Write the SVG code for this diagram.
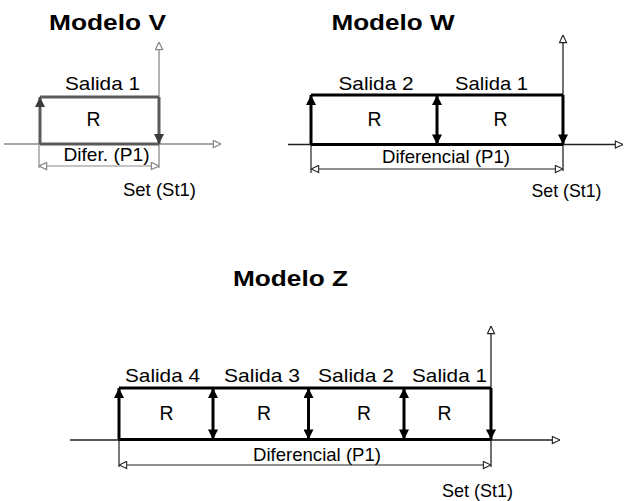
<svg xmlns="http://www.w3.org/2000/svg" width="624" height="501" viewBox="0 0 624 501">
  <style>
    .title { font-family: "Liberation Sans", Arial, sans-serif; font-weight: bold; font-size: 22px; fill: #000; }
    .lbl { font-family: "Liberation Sans", Arial, sans-serif; font-size: 19px; fill: #000; }
    .r { font-size: 20px; }
    .axis { stroke: #222; stroke-width: 1.3; fill: none; }
    .dim { stroke: #222; stroke-width: 1.2; fill: none; }
    .band { stroke: #000; stroke-width: 3; fill: none; }
    .v .axis, .v .dim { stroke: #8a8a8a; }
    .v .band { stroke: #5a5a5a; }
  </style>
  <defs>
    <!-- solid head for the switching arrows -->
    <marker id="head" viewBox="0 0 10 10" refX="10" refY="5" markerWidth="11" markerHeight="10" markerUnits="userSpaceOnUse" orient="auto-start-reverse">
      <path d="M0,0 L10,5 L0,10 Z" fill="#000"/>
    </marker>
    <marker id="headGray" viewBox="0 0 10 10" refX="10" refY="5" markerWidth="11" markerHeight="10" markerUnits="userSpaceOnUse" orient="auto-start-reverse">
      <path d="M0,0 L10,5 L0,10 Z" fill="#3a3a3a"/>
    </marker>
    <!-- open head for axes and dimension lines -->
    <marker id="open" viewBox="0 0 10 10" refX="9.5" refY="5" markerWidth="9" markerHeight="9" markerUnits="userSpaceOnUse" orient="auto-start-reverse">
      <path d="M1,1 L9.5,5 L1,9 Z" fill="#fff" stroke="#222" stroke-width="1.2"/>
    </marker>
    <marker id="openGray" viewBox="0 0 10 10" refX="9.5" refY="5" markerWidth="9" markerHeight="9" markerUnits="userSpaceOnUse" orient="auto-start-reverse">
      <path d="M1,1 L9.5,5 L1,9 Z" fill="#fff" stroke="#8a8a8a" stroke-width="1.4"/>
    </marker>
    <filter id="soft" x="-5%" y="-5%" width="110%" height="110%">
      <feGaussianBlur stdDeviation="0.5"/>
    </filter>
  </defs>

  <!-- Modelo V -->
  <g id="modelo-v" class="v">
    <text class="title" x="49" y="30" textLength="117" lengthAdjust="spacingAndGlyphs">Modelo V</text>
    <g id="modelo-v-connectors" filter="url(#soft)">
      <line class="axis" x1="159" y1="168" x2="159" y2="42" marker-end="url(#openGray)"/>
      <line class="axis" x1="4" y1="144" x2="221" y2="144" marker-end="url(#openGray)"/>
      <line class="dim" x1="39" y1="144" x2="39" y2="168"/>
      <line class="dim" x1="39" y1="166" x2="159" y2="166" marker-start="url(#openGray)" marker-end="url(#openGray)"/>
      <line class="band" x1="40" y1="97" x2="159" y2="97"/>
      <line class="band" x1="40" y1="144" x2="159" y2="144"/>
      <line class="band" x1="40" y1="144" x2="40" y2="97" stroke="#7a7a7a" marker-end="url(#headGray)"/>
      <line class="band" x1="159" y1="97" x2="159" y2="144" stroke="#444" marker-end="url(#headGray)"/>
    </g>
    <text class="lbl" x="65" y="89.5" textLength="75" lengthAdjust="spacingAndGlyphs">Salida 1</text>
    <text class="lbl r" x="86.5" y="126" textLength="14" lengthAdjust="spacingAndGlyphs">R</text>
    <text class="lbl" x="63.5" y="160.5" textLength="86" lengthAdjust="spacingAndGlyphs">Difer. (P1)</text>
    <text class="lbl" x="123" y="195.5" textLength="73" lengthAdjust="spacingAndGlyphs">Set (St1)</text>
  </g>

  <!-- Modelo W -->
  <g id="modelo-w">
    <text class="title" x="331.5" y="30" textLength="123" lengthAdjust="spacingAndGlyphs">Modelo W</text>
    <g id="modelo-w-connectors">
      <line class="axis" x1="563" y1="171" x2="563" y2="35" marker-end="url(#open)"/>
      <line class="axis" x1="288" y1="144.5" x2="623" y2="144.5" marker-end="url(#open)"/>
      <line class="dim" x1="311" y1="144.5" x2="311" y2="173"/>
      <line class="dim" x1="311" y1="169" x2="563" y2="169" marker-start="url(#open)" marker-end="url(#open)"/>
      <line class="band" x1="311" y1="95" x2="563" y2="95"/>
      <line class="band" x1="311" y1="144.5" x2="563" y2="144.5"/>
      <line class="band" x1="311" y1="144.5" x2="311" y2="95" marker-end="url(#head)"/>
      <line class="band" x1="437" y1="95" x2="437" y2="144.5" marker-start="url(#head)" marker-end="url(#head)"/>
      <line class="band" x1="563" y1="95" x2="563" y2="144.5" marker-end="url(#head)"/>
    </g>
    <text class="lbl" x="338.5" y="90" textLength="75" lengthAdjust="spacingAndGlyphs">Salida 2</text>
    <text class="lbl" x="455" y="90" textLength="73" lengthAdjust="spacingAndGlyphs">Salida 1</text>
    <text class="lbl r" x="367.5" y="126" textLength="14" lengthAdjust="spacingAndGlyphs">R</text>
    <text class="lbl r" x="493.5" y="126" textLength="14" lengthAdjust="spacingAndGlyphs">R</text>
    <text class="lbl" x="382" y="163" textLength="128" lengthAdjust="spacingAndGlyphs">Diferencial (P1)</text>
    <text class="lbl" x="531.5" y="196.5" textLength="70" lengthAdjust="spacingAndGlyphs">Set (St1)</text>
  </g>

  <!-- Modelo Z -->
  <g id="modelo-z">
    <text class="title" x="233" y="286" textLength="115" lengthAdjust="spacingAndGlyphs">Modelo Z</text>
    <g id="modelo-z-connectors">
      <line class="axis" x1="491" y1="467" x2="491" y2="326" marker-end="url(#open)"/>
      <line class="axis" x1="70" y1="440" x2="560" y2="440" marker-end="url(#open)"/>
      <line class="dim" x1="119" y1="440" x2="119" y2="467"/>
      <line class="dim" x1="119" y1="465" x2="491" y2="465" marker-start="url(#open)" marker-end="url(#open)"/>
      <line class="band" x1="119" y1="388" x2="491" y2="388"/>
      <line class="band" x1="119" y1="439.5" x2="491" y2="439.5"/>
      <line class="band" x1="119" y1="439.5" x2="119" y2="388" marker-end="url(#head)"/>
      <line class="band" x1="213" y1="388" x2="213" y2="439.5" marker-start="url(#head)" marker-end="url(#head)"/>
      <line class="band" x1="308.5" y1="388" x2="308.5" y2="439.5" marker-start="url(#head)" marker-end="url(#head)"/>
      <line class="band" x1="404" y1="388" x2="404" y2="439.5" marker-start="url(#head)" marker-end="url(#head)"/>
      <line class="band" x1="491" y1="388" x2="491" y2="439.5" marker-end="url(#head)"/>
    </g>
    <text class="lbl" x="125" y="381.5" textLength="75" lengthAdjust="spacingAndGlyphs">Salida 4</text>
    <text class="lbl" x="224" y="381.5" textLength="76" lengthAdjust="spacingAndGlyphs">Salida 3</text>
    <text class="lbl" x="318" y="381.5" textLength="76" lengthAdjust="spacingAndGlyphs">Salida 2</text>
    <text class="lbl" x="412" y="381.5" textLength="75" lengthAdjust="spacingAndGlyphs">Salida 1</text>
    <text class="lbl r" x="159.5" y="420" textLength="14" lengthAdjust="spacingAndGlyphs">R</text>
    <text class="lbl r" x="257" y="420" textLength="14" lengthAdjust="spacingAndGlyphs">R</text>
    <text class="lbl r" x="357" y="420" textLength="14" lengthAdjust="spacingAndGlyphs">R</text>
    <text class="lbl r" x="437.5" y="420" textLength="14" lengthAdjust="spacingAndGlyphs">R</text>
    <text class="lbl" x="253" y="460.5" textLength="128" lengthAdjust="spacingAndGlyphs">Diferencial (P1)</text>
    <text class="lbl" x="442" y="497" textLength="71" lengthAdjust="spacingAndGlyphs">Set (St1)</text>
  </g>
</svg>
